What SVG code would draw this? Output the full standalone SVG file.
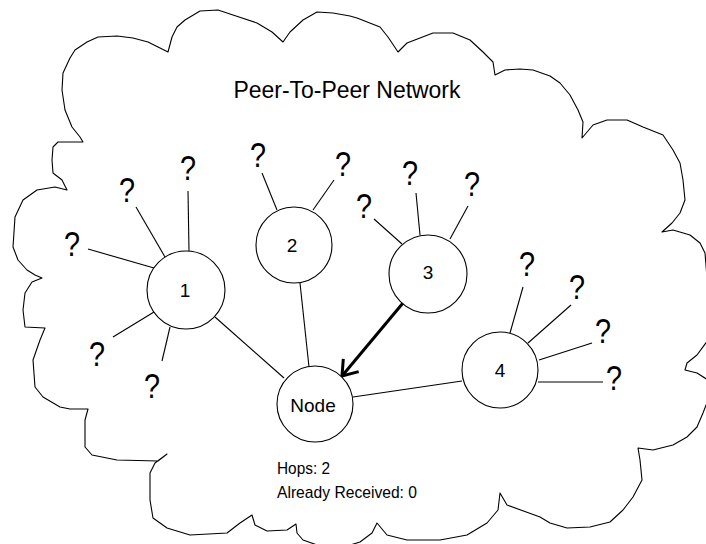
<svg xmlns="http://www.w3.org/2000/svg" width="706" height="544" viewBox="0 0 706 544">
<style>
.cloud{fill:none;stroke:#000;stroke-width:1.1;stroke-linejoin:round}
.ln{stroke:#000;stroke-width:1.1;fill:none}
.nd{fill:#fff;stroke:#000;stroke-width:1.1}
.lbl{font-family:"Liberation Sans",Arial,sans-serif;font-size:19px;fill:#000;text-anchor:middle}
.q{font-family:"Liberation Sans",Arial,sans-serif;font-size:35px;fill:#000;text-anchor:middle}
.t{font-family:"Liberation Sans",Arial,sans-serif;fill:#000}
</style>
<defs>
<marker id="ah" viewBox="-20 -12 24 24" markerWidth="24" markerHeight="24" refX="0" refY="0" markerUnits="userSpaceOnUse" orient="auto">
<path d="M-14,-10 L0,0 L-14,10" fill="none" stroke="#000" stroke-width="3"/>
</marker>
</defs>
<rect width="706" height="544" fill="#fff"/>
<g id="cloud">
<path class="cloud" d="M83,142 L80,137 72,127 65,110 62,90 63,73 70,58 75,50 87,42 98,37 117,36 133,38 148,42 158,47 168,52 L172,37 177,27 185,20 200,11 218,10 233,15 257,23 272,32 283,42 L290,32 303,20 317,12 333,13 350,16 357,18 380,27 388,37 398,52 L407,43 433,33 453,33 470,40 483,52 493,62 495,75 L505,70 520,69 533,70 550,76 560,83 570,95 578,110 583,122 582,138 L593,125 607,120 627,120 643,127 663,135 673,150 680,163 683,180 685,200 680,213 672,223 662,232 L673,230 690,235 700,243 705,253 708,290 708,340 697,355 687,363 685,370 L697,373 708,380 708,400 703,413 697,427 687,437 673,445 653,450 638,448 L640,460 642,480 633,497 623,510 610,522 590,527 567,528 550,523 540,517 507,505 500,493 L498,510 487,523 467,535 440,540 407,540 387,535 377,523 L372,533 360,542 347,546 320,546 303,540 297,533 296,524 L287,530 267,531 255,525 252,515 L240,523 227,533 190,535 167,528 153,518 150,500 150,473 155,463 167,454 158,461 117,460 92,455 85,447 85,420 88,409 70,409 60,407 43,397 35,387 33,360 40,340 45,328 25,327 23,310 25,293 32,282 42,278 35,275 27,270 18,260 13,247 15,217 23,200 37,190 55,187 67,190 62,180 53,173 52,160 53,147 58,142 Z"/>
<text class="t" x="347" y="98" font-size="23" text-anchor="middle" textLength="227" lengthAdjust="spacingAndGlyphs">Peer-To-Peer Network</text>
</g>
<g id="connectors">
<line class="ln" x1="88" y1="249" x2="154" y2="268"/>
<line class="ln" x1="136" y1="207" x2="165" y2="257"/>
<line class="ln" x1="188" y1="191" x2="189" y2="251"/>
<line class="ln" x1="113" y1="337" x2="154" y2="312"/>
<line class="ln" x1="162" y1="361" x2="170" y2="327"/>
<line class="ln" x1="262" y1="173" x2="277" y2="210"/>
<line class="ln" x1="334" y1="180" x2="313" y2="210"/>
<line class="ln" x1="374" y1="219" x2="402" y2="244"/>
<line class="ln" x1="416" y1="193" x2="420" y2="235"/>
<line class="ln" x1="468" y1="206" x2="450" y2="239"/>
<line class="ln" x1="523" y1="287" x2="510" y2="333"/>
<line class="ln" x1="571" y1="305" x2="528" y2="343"/>
<line class="ln" x1="592" y1="343" x2="539" y2="360"/>
<line class="ln" x1="538" y1="382" x2="603" y2="382"/>
<line class="ln" x1="215" y1="317" x2="284" y2="378"/>
<line class="ln" x1="300" y1="283" x2="309" y2="367"/>
<line class="ln" x1="353" y1="397" x2="462" y2="381"/>
<line x1="403" y1="303" x2="342" y2="376" stroke="#000" stroke-width="3" marker-end="url(#ah)"/>
</g>
<g id="node1"><circle class="nd" cx="186" cy="290" r="39"/><text class="lbl" x="185" y="297">1</text></g>
<g id="node2"><circle class="nd" cx="294" cy="245" r="38"/><text class="lbl" x="292" y="252">2</text></g>
<g id="node3"><circle class="nd" cx="428" cy="274" r="39"/><text class="lbl" x="428" y="279">3</text></g>
<g id="node4"><circle class="nd" cx="500" cy="370" r="38"/><text class="lbl" x="500" y="377">4</text></g>
<g id="node"><circle class="nd" cx="315" cy="404" r="38"/><text class="lbl" x="313" y="412" font-size="20">Node</text></g>
<g id="unknown-peers">
<text class="q" x="72" y="256" textLength="16" lengthAdjust="spacingAndGlyphs">?</text>
<text class="q" x="127" y="202" textLength="16" lengthAdjust="spacingAndGlyphs">?</text>
<text class="q" x="188" y="180" textLength="16" lengthAdjust="spacingAndGlyphs">?</text>
<text class="q" x="97" y="366" textLength="16" lengthAdjust="spacingAndGlyphs">?</text>
<text class="q" x="152" y="398" textLength="16" lengthAdjust="spacingAndGlyphs">?</text>
<text class="q" x="258" y="167" textLength="16" lengthAdjust="spacingAndGlyphs">?</text>
<text class="q" x="343" y="176" textLength="16" lengthAdjust="spacingAndGlyphs">?</text>
<text class="q" x="364" y="218" textLength="16" lengthAdjust="spacingAndGlyphs">?</text>
<text class="q" x="410" y="185" textLength="16" lengthAdjust="spacingAndGlyphs">?</text>
<text class="q" x="472" y="196" textLength="16" lengthAdjust="spacingAndGlyphs">?</text>
<text class="q" x="527" y="276" textLength="16" lengthAdjust="spacingAndGlyphs">?</text>
<text class="q" x="577" y="299" textLength="16" lengthAdjust="spacingAndGlyphs">?</text>
<text class="q" x="603" y="343" textLength="16" lengthAdjust="spacingAndGlyphs">?</text>
<text class="q" x="614" y="390" textLength="16" lengthAdjust="spacingAndGlyphs">?</text>
</g>
<g id="status">
<text class="t" x="277" y="474" font-size="17" textLength="53" lengthAdjust="spacingAndGlyphs">Hops: 2</text>
<text class="t" x="277" y="498" font-size="17" textLength="140" lengthAdjust="spacingAndGlyphs">Already Received: 0</text>
</g>
</svg>
